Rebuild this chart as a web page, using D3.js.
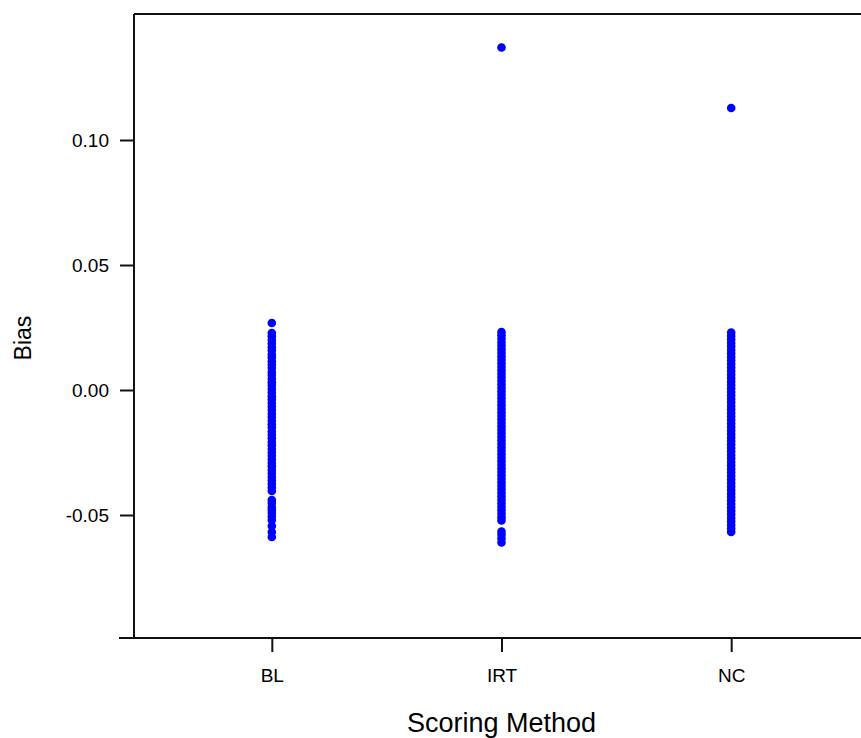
<!DOCTYPE html>
<html>
<head>
<meta charset="utf-8">
<script src="https://cdn.jsdelivr.net/npm/d3@7"></script>
<style>
  html, body { margin: 0; padding: 0; background: #fff; }
  svg { display: block; }
  text { font-family: "Liberation Sans", Arial, sans-serif; fill: #000; }
</style>
</head>
<body>
<svg id="chart" width="861" height="738"></svg>
<script>
// Scoring methods on the x axis
const methods = ["BL", "IRT", "NC"];

// Bias of each replication, per scoring method
const biasBL = [
  0.0268, 0.0228, 0.0215, 0.0200, 0.0186, 0.0171, 0.0158, 0.0142, 0.0130, 0.0115,
  0.0101, 0.0088, 0.0072, 0.0060, 0.0045, 0.0031, 0.0018, 0.0004, -0.0010, -0.0025,
  -0.0038, -0.0052, -0.0066, -0.0080, -0.0095, -0.0108, -0.0123, -0.0137, -0.0150, -0.0166,
  -0.0179, -0.0193, -0.0208, -0.0221, -0.0236, -0.0250, -0.0263, -0.0278, -0.0292, -0.0305,
  -0.0320, -0.0334, -0.0348, -0.0362, -0.0376, -0.0390, -0.0404, -0.0440, -0.0452, -0.0468,
  -0.0480, -0.0492, -0.0506, -0.0520, -0.0544, -0.0568, -0.0588
];
const biasIRT = [
  0.1370, 0.0232, 0.0219, 0.0205, 0.0190, 0.0177, 0.0163, 0.0149, 0.0135, 0.0121,
  0.0107, 0.0093, 0.0079, 0.0065, 0.0051, 0.0037, 0.0023, 0.0009, -0.0005, -0.0019,
  -0.0033, -0.0047, -0.0061, -0.0075, -0.0089, -0.0103, -0.0117, -0.0131, -0.0145, -0.0159,
  -0.0173, -0.0187, -0.0201, -0.0215, -0.0229, -0.0243, -0.0257, -0.0271, -0.0285, -0.0299,
  -0.0313, -0.0327, -0.0341, -0.0355, -0.0369, -0.0383, -0.0397, -0.0411, -0.0425, -0.0439,
  -0.0453, -0.0467, -0.0481, -0.0495, -0.0509, -0.0522, -0.0566, -0.0579, -0.0594, -0.0610
];
const biasNC = [
  0.1128, 0.0230, 0.0216, 0.0202, 0.0188, 0.0174, 0.0160, 0.0146, 0.0132, 0.0118,
  0.0104, 0.0090, 0.0076, 0.0062, 0.0048, 0.0034, 0.0020, 0.0006, -0.0008, -0.0022,
  -0.0036, -0.0050, -0.0064, -0.0078, -0.0092, -0.0106, -0.0120, -0.0134, -0.0148, -0.0162,
  -0.0176, -0.0190, -0.0204, -0.0218, -0.0232, -0.0246, -0.0260, -0.0274, -0.0288, -0.0302,
  -0.0316, -0.0330, -0.0344, -0.0358, -0.0372, -0.0386, -0.0400, -0.0414, -0.0428, -0.0442,
  -0.0456, -0.0470, -0.0484, -0.0498, -0.0512, -0.0526, -0.0540, -0.0554, -0.0568
];

// Y axis ticks
const yTicks = [-0.05, 0.00, 0.05, 0.10];

const series = [
  { method: "BL", values: biasBL },
  { method: "IRT", values: biasIRT },
  { method: "NC", values: biasNC }
];

const svg = d3.select("#chart");
const plotLeft = 134, plotRight = 869, plotTop = 14, plotBottom = 638;

const x = d3.scalePoint().domain(methods).range([plotLeft, plotRight]).padding(0.6);
const y = d3.scaleLinear().domain([-0.0992, 0.1504]).range([plotBottom, plotTop]);

const axisColor = "#111";
const tickFont = "19px";

// Frame: top edge
svg.append("line")
  .attr("x1", plotLeft).attr("x2", 861).attr("y1", plotTop).attr("y2", plotTop)
  .attr("stroke", axisColor).attr("stroke-width", 2);

// Y axis
const yAxis = svg.append("g")
  .attr("transform", `translate(${plotLeft},0)`)
  .call(d3.axisLeft(y).tickValues(yTicks).tickFormat(d => d.toFixed(2))
    .tickSize(14).tickSizeOuter(0).tickPadding(11));
yAxis.select(".domain").attr("stroke", axisColor).attr("stroke-width", 2)
  .attr("d", `M0,${plotTop}V${plotBottom}`);
yAxis.selectAll(".tick line").attr("stroke", axisColor).attr("stroke-width", 2);
yAxis.selectAll(".tick text")
  .style("font-family", "'Liberation Sans', Arial, sans-serif")
  .style("font-size", tickFont).attr("fill", "#000");

// X axis
const xAxis = svg.append("g")
  .attr("transform", `translate(0,${plotBottom})`)
  .call(d3.axisBottom(x).tickSize(14).tickSizeOuter(0).tickPadding(17));
xAxis.select(".domain").attr("stroke", axisColor).attr("stroke-width", 2)
  .attr("d", `M${plotLeft - 15},0H861`);
xAxis.selectAll(".tick line").attr("stroke", axisColor).attr("stroke-width", 2);
xAxis.selectAll(".tick text")
  .style("font-family", "'Liberation Sans', Arial, sans-serif")
  .style("font-size", tickFont).attr("fill", "#000");

// Points
series.forEach(s => {
  svg.append("g").selectAll("circle")
    .data(s.values)
    .join("circle")
    .attr("cx", x(s.method))
    .attr("cy", d => y(d))
    .attr("r", 4.3)
    .attr("fill", "#0000ff");
});

// Axis titles
svg.append("text")
  .attr("x", x("IRT")).attr("y", 732)
  .attr("text-anchor", "middle")
  .style("font-size", "27px")
  .text("Scoring Method");

svg.append("text")
  .attr("transform", `translate(31,338) rotate(-90)`)
  .attr("text-anchor", "middle")
  .style("font-size", "23px")
  .text("Bias");
</script>
</body>
</html>
